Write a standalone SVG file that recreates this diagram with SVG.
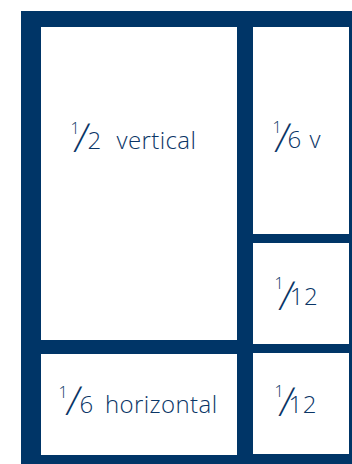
<svg xmlns="http://www.w3.org/2000/svg" width="352" height="464" viewBox="0 0 352 464">
<style>
.cell{fill:#ffffff}
.t{font-family:"Open Sans","Liberation Sans",sans-serif;font-weight:300;font-size:24px;letter-spacing:0.4px;fill:#0a3566}
.n{font-size:16px;letter-spacing:0}
.s{font-size:40px;letter-spacing:0}
</style>
<rect id="frame" x="21" y="11" width="331" height="453" fill="#003567"/>
<g id="half-vertical">
<rect class="cell" x="41" y="27" width="196" height="313"/>
<text class="t"><tspan class="n" x="70.5" y="133.5">1</tspan></text>
<text class="t s" transform="translate(73,152) skewX(-8)">/</text>
<text class="t"><tspan x="87.6" y="149">2</tspan> <tspan x="116.5" y="149">vertical</tspan></text>
</g>
<g id="sixth-horizontal">
<rect class="cell" x="41" y="354" width="196" height="101"/>
<text class="t"><tspan class="n" x="58.5" y="397.5">1</tspan></text>
<text class="t s" transform="translate(65,414.5) skewX(-8)">/</text>
<text class="t"><tspan x="79.5" y="413">6</tspan> <tspan x="105" y="413">horizontal</tspan></text>
</g>
<g id="sixth-v">
<rect class="cell" x="253" y="27" width="96" height="207"/>
<text class="t"><tspan class="n" x="272.5" y="132.5">1</tspan></text>
<text class="t s" transform="translate(274,152) skewX(-8)">/</text>
<text class="t"><tspan x="287.5" y="148">6</tspan> <tspan x="309.5" y="148">v</tspan></text>
</g>
<g id="twelfth-1">
<rect class="cell" x="253" y="243" width="96" height="101"/>
<text class="t"><tspan class="n" x="274.5" y="288.5">1</tspan></text>
<text class="t s" transform="translate(278,309.5) skewX(-8)">/</text>
<text class="t"><tspan x="289.8" y="305">12</tspan></text>
</g>
<g id="twelfth-2">
<rect class="cell" x="253" y="353" width="96" height="101"/>
<text class="t"><tspan class="n" x="274.5" y="396.5">1</tspan></text>
<text class="t s" transform="translate(278,416) skewX(-8)">/</text>
<text class="t"><tspan x="288.6" y="413">12</tspan></text>
</g>
</svg>
